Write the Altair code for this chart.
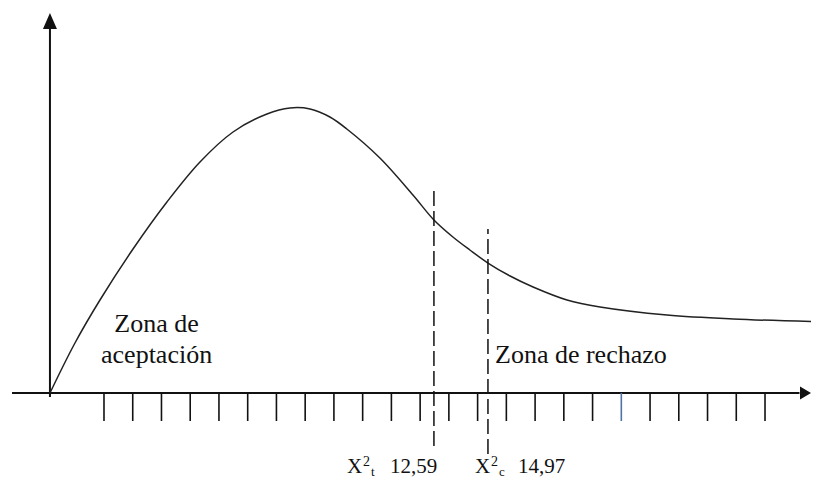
import altair as alt
import pandas as pd

# ---- data (x in tick units, y in arbitrary density units) ----
curve_x = [-0.88, -0.01, 0.86, 2.01, 3.19, 4.34, 5.49, 6.67, 7.47, 8.17, 8.86, 9.45,
           10.60, 11.75, 12.48, 13.14, 13.73, 14.36, 15.13, 15.93, 17.11, 18.26,
           20.59, 22.89, 25.60]
curve_y = [0, 16.67, 31, 48, 63.67, 77, 87, 93, 95, 94.67, 92, 88,
           78.33, 66, 57.67, 52, 47.67, 43.33, 39, 35.33, 31, 28.67,
           26, 24.67, 23.8]

tick_x = [1, 2, 3, 4, 5, 6, 7, 8, 9, 10, 11, 12, 13, 14, 15, 16, 17, 18, 19, 20, 21, 22, 23, 24]
tick_kind = ["n"] * 18 + ["b"] + ["n"] * 5

crit_x = [12.48, 14.36]
crit_top = [68.67, 54.67]
crit_bottom = [-17.67, -20.33]

label_x = [9.455, 13.91]
label_sub = ["t", "c"]
label_num = ["12,59", "14,97"]

zone_left_x = [2.83, 2.83]
zone_left_y = [20.33, 10.0]
zone_left_text = ["Zona de", "aceptación"]
zone_right_x = [14.605]
zone_right_y = [10.0]
zone_right_text = ["Zona de rechazo"]

axis_x = [-2.2, -0.88]
axis_x2 = [25.2, -0.88]
axis_y = [0, -1.33]
axis_y2 = [0, 121.33]

arrow_x = [25.41, -0.88]
arrow_y = [0, 124]
arrow_dir = ["right", "up"]

# ---- scales ----
xs = alt.Scale(domain=[-2.34, 25.60], nice=False, zero=False)
ys = alt.Scale(domain=[-29.333, 128.333], nice=False, zero=False)
INK = "#111111"
SERIF = "Liberation Serif"


def X(f):
    return alt.X(f, type="quantitative", scale=xs, axis=None)


def Y(f):
    return alt.Y(f, type="quantitative", scale=ys, axis=None)


curve_df = pd.DataFrame({"x": curve_x, "y": curve_y})
tick_df = pd.DataFrame({"x": tick_x, "kind": tick_kind, "y": 0.0, "y2": -9.33})
crit_df = pd.DataFrame({"x": crit_x, "top": crit_top, "bottom": crit_bottom})
label_df = pd.DataFrame({"x": label_x, "sub": label_sub, "num": label_num, "y": -26.7})
zl_df = pd.DataFrame({"x": zone_left_x, "y": zone_left_y, "t": zone_left_text})
zr_df = pd.DataFrame({"x": zone_right_x, "y": zone_right_y, "t": zone_right_text})
axis_df = pd.DataFrame({"x": axis_x, "x2": axis_x2, "y": axis_y, "y2": axis_y2})
arrow_df = pd.DataFrame({"x": arrow_x, "y": arrow_y, "d": arrow_dir})

axes = alt.Chart(axis_df).mark_rule(color=INK, strokeWidth=2).encode(
    x=X("x"), x2="x2", y=Y("y"), y2="y2")

arrows = alt.Chart(arrow_df).mark_point(filled=True, size=256, opacity=1, color=INK).encode(
    x=X("x"), y=Y("y"),
    shape=alt.Shape("d:N", legend=None, scale=alt.Scale(
        domain=["right", "up"],
        range=["M -0.69 -0.81 L 0.69 0 L -0.69 0.81 Z", "M -0.875 1 L 0 -1 L 0.875 1 Z"])))

ticks = alt.Chart(tick_df).mark_rule(strokeWidth=1.6).encode(
    x=X("x"), y=Y("y"), y2="y2",
    color=alt.Color("kind:N", legend=None,
                    scale=alt.Scale(domain=["n", "b"], range=[INK, "#4f72a8"])))

curve = alt.Chart(curve_df).mark_line(color="#222222", strokeWidth=1.5,
                                      interpolate="catmull-rom").encode(x=X("x"), y=Y("y"))

crit = alt.Chart(crit_df).mark_rule(color=INK, strokeWidth=1.5, strokeDash=[15, 5]).encode(
    x=X("x"), y=Y("bottom"), y2="top")

zone_left = alt.Chart(zl_df).mark_text(font=SERIF, fontSize=26, align="center",
                                       baseline="alphabetic", color=INK).encode(
    x=X("x"), y=Y("y"), text="t:N")
zone_right = alt.Chart(zr_df).mark_text(font=SERIF, fontSize=26, align="left",
                                        baseline="alphabetic", color=INK).encode(
    x=X("x"), y=Y("y"), text="t:N")

lab_base = alt.Chart(label_df)
lab_X = lab_base.mark_text(font=SERIF, fontSize=21, align="left", baseline="alphabetic",
                           color=INK, text="X").encode(x=X("x"), y=Y("y"))
lab_sup = lab_base.mark_text(font=SERIF, fontSize=14, align="left", baseline="alphabetic",
                             color=INK, text="2", dx=16, dy=-7).encode(x=X("x"), y=Y("y"))
lab_sub = lab_base.mark_text(font=SERIF, fontSize=13, align="left", baseline="alphabetic",
                             color=INK, dx=24, dy=3).encode(x=X("x"), y=Y("y"), text="sub:N")
lab_num = lab_base.mark_text(font=SERIF, fontSize=21, align="left", baseline="alphabetic",
                             color=INK, dx=43).encode(x=X("x"), y=Y("y"), text="num:N")

chart = alt.layer(
    axes, ticks, curve, crit, arrows, zone_left, zone_right, lab_X, lab_sup, lab_sub, lab_num
).properties(
    width=803, height=473, padding=0, autosize=alt.AutoSizeParams(type="none")
).configure_view(stroke=None)

chart.save("out.html", embed_options={"renderer": "svg", "actions": False})
